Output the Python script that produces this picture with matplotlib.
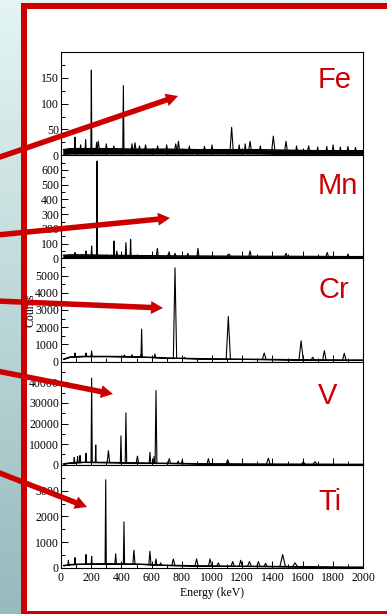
import numpy as np
import matplotlib
matplotlib.use("Agg")
import matplotlib.pyplot as plt
from matplotlib.patches import Rectangle, FancyArrow
from matplotlib.ticker import MultipleLocator

plt.rcParams['font.family'] = ['Liberation Serif', 'DejaVu Serif']

W, H = 387, 614
RED = "#cc0000"

# panel setup (top to bottom)
elements = ["Fe", "Mn", "Cr", "V", "Ti"]
y_max = [200, 700, 6000, 50000, 4000]
y_ticks = [
    [0, 50, 100, 150],
    [0, 100, 200, 300, 400, 500, 600],
    [0, 1000, 2000, 3000, 4000, 5000],
    [0, 10000, 20000, 30000, 40000],
    [0, 1000, 2000, 3000],
]
x_ticks = [0, 200, 400, 600, 800, 1000, 1200, 1400, 1600, 1800, 2000]

# continuum (keV, counts): lower / upper edge of the noisy band
fe_cont_e  = [15, 60, 150, 300, 500, 700, 900, 1100, 1300, 1500, 1700, 1900, 2000]
fe_cont_lo = [2, 3, 3, 3, 3, 3, 3, 3, 3, 2, 2, 2, 2]
fe_cont_hi = [11, 13, 13, 13, 12, 12, 11, 11, 11, 10, 9, 9, 9]
fe_peak_e = [93, 130, 163, 201, 236, 247, 300, 350, 413, 470, 490, 520, 560, 640, 700,
             760, 778, 850, 950, 1000, 1130, 1180, 1220, 1252, 1320, 1406, 1490, 1560,
             1640, 1700, 1760, 1802, 1850, 1900, 1950]
fe_peak_h = [35, 20, 30, 165, 25, 27, 22, 18, 135, 22, 24, 18, 20, 18, 20,
             22, 27, 18, 17, 20, 54, 20, 22, 27, 18, 37, 27, 18,
             18, 16, 17, 20, 16, 17, 15]
fe_peak_w = [3, 3, 3, 3, 4, 6, 4, 4, 4, 4, 6, 4, 5, 4, 4,
             6, 6, 4, 4, 4, 10, 4, 4, 8, 4, 10, 8, 4,
             6, 4, 4, 5, 4, 5, 4]

mn_cont_e  = [15, 60, 150, 300, 500, 700, 900, 1100, 1300, 1500, 1700, 1900, 2000]
mn_cont_lo = [0, 0, 0, 0, 0, 0, 0, 0, 0, 0, 0, 0, 0]
mn_cont_hi = [22, 25, 25, 22, 20, 18, 17, 16, 15, 15, 14, 13, 13]
mn_peak_e = [93, 166, 203, 238, 351, 370, 430, 461, 638, 716, 755, 840, 907, 1113, 1252, 1490, 1763, 1900]
mn_peak_h = [40, 50, 84, 660, 118, 50, 107, 129, 68, 45, 35, 35, 68, 30, 50, 35, 40, 30]
mn_peak_w = [3, 3, 3, 3, 3, 4, 4, 3, 6, 6, 5, 5, 6, 8, 8, 8, 8, 5]

cr_cont_e  = [15, 60, 150, 300, 500, 700, 900, 1100, 1300, 1500, 1700, 1900, 2000]
cr_cont_lo = [150, 280, 310, 310, 290, 220, 180, 160, 140, 120, 110, 100, 100]
cr_cont_hi = [150, 280, 310, 310, 290, 220, 180, 160, 140, 120, 110, 100, 100]
cr_peak_e = [93, 166, 203, 420, 470, 529, 534, 622, 755, 818, 1108, 1346, 1590, 1667, 1744, 1876]
cr_peak_h = [500, 500, 620, 380, 400, 400, 1890, 450, 5450, 250, 2620, 500, 1210, 250, 635, 485]
cr_peak_w = [3, 3, 4, 5, 5, 4, 4, 4, 11, 5, 14, 12, 14, 10, 11, 11]

v_cont_e  = [15, 60, 150, 300, 500, 700, 900, 1100, 1300, 1500, 1700, 1900, 2000]
v_cont_lo = [500, 1000, 1300, 1200, 1000, 800, 600, 500, 450, 400, 350, 300, 300]
v_cont_hi = [500, 1000, 1300, 1200, 1000, 800, 600, 500, 450, 400, 350, 300, 300]
v_peak_e = [88, 110, 126, 166, 203, 230, 314, 397, 430, 506, 589, 616, 629, 717, 776, 803, 976, 1104, 1373, 1605, 1682]
v_peak_h = [3500, 4000, 4500, 5600, 42000, 9600, 6850, 14000, 25200, 4200, 6100, 4000, 36000, 3000, 1800, 2200, 3000, 2500, 3200, 1500, 1500]
v_peak_w = [3, 3, 3, 3, 4, 3, 8, 4, 5, 8, 5, 4, 6, 8, 6, 6, 8, 10, 12, 10, 12]

ti_cont_e  = [15, 60, 150, 300, 500, 700, 900, 1100, 1300, 1500, 1700, 1900, 2000]
ti_cont_lo = [100, 140, 160, 170, 160, 110, 90, 80, 70, 60, 50, 40, 40]
ti_cont_hi = [100, 140, 160, 170, 160, 110, 90, 80, 70, 60, 50, 40, 40]
ti_peak_e = [49, 93, 166, 203, 296, 362, 417, 483, 589, 629, 660, 744, 898, 987, 1042, 1137, 1190, 1248, 1307, 1355, 1468, 1550]
ti_peak_h = [300, 400, 520, 450, 3420, 550, 1790, 690, 650, 350, 200, 350, 350, 350, 200, 250, 300, 250, 250, 180, 520, 200]
ti_peak_w = [3, 3, 3, 3, 4, 5, 4, 7, 7, 6, 6, 10, 10, 10, 10, 10, 10, 12, 10, 10, 18, 16]

spectra = [
    (fe_cont_e, fe_cont_lo, fe_cont_hi, fe_peak_e, fe_peak_h, fe_peak_w),
    (mn_cont_e, mn_cont_lo, mn_cont_hi, mn_peak_e, mn_peak_h, mn_peak_w),
    (cr_cont_e, cr_cont_lo, cr_cont_hi, cr_peak_e, cr_peak_h, cr_peak_w),
    (v_cont_e, v_cont_lo, v_cont_hi, v_peak_e, v_peak_h, v_peak_w),
    (ti_cont_e, ti_cont_lo, ti_cont_hi, ti_peak_e, ti_peak_h, ti_peak_w),
]

# label baselines in pixels
label_base = [88, 194, 298, 404, 510]


def draw_spectrum(ax, cont_e, lo, hi, pk_e, pk_h, pk_w):
    e = np.array(cont_e, dtype=float)
    hi = np.array(hi, dtype=float)
    ax.fill_between(e, lo, hi, color='black', lw=0.6)
    ax.plot(e, hi, color='black', lw=0.8)
    for pe, ph, pw in zip(pk_e, pk_h, pk_w):
        b0 = np.interp(pe - pw, e, hi)
        b1 = np.interp(pe + pw, e, hi)
        ax.plot([pe - pw, pe, pe + pw], [b0, ph, b1], color='black', lw=0.8)


fig = plt.figure(figsize=(W / 100, H / 100), dpi=100)

# slide background + red frame
ax_bg = fig.add_axes([0, 0, 1, 1], zorder=-1)
ax_bg.set_xlim(0, W)
ax_bg.set_ylim(H, 0)
ax_bg.axis('off')
top_c = np.array([228, 245, 242]) / 255
bot_c = np.array([150, 186, 190]) / 255
grad = np.linspace(0, 1, 256)[:, None, None] * (bot_c - top_c) + top_c
ax_bg.imshow(grad, extent=[0, W, H, 0], aspect='auto')
ax_bg.add_patch(Rectangle((21, 3), W - 21, H - 3, color='white', lw=0))
ax_bg.add_patch(Rectangle((21, 3), W - 21, 6, color=RED, lw=0))
ax_bg.add_patch(Rectangle((21, 3), 5.5, H - 3, color=RED, lw=0))
ax_bg.add_patch(Rectangle((21, 611), W - 21, 3, color=RED, lw=0))

left, right = 61, 363
top, bottom = 52, 568
ph = (bottom - top) / len(elements)

for i, name in enumerate(elements):
    # panels stacked from the top
    y_top = top + i * ph
    ax = fig.add_axes([left / W, 1 - (y_top + ph) / H, (right - left) / W, ph / H])
    draw_spectrum(ax, *spectra[i])
    ax.set_xlim(0, 2000)
    ax.set_ylim(0, y_max[i])
    ax.set_xticks(x_ticks)
    ax.xaxis.set_minor_locator(MultipleLocator(100))
    ax.set_yticks(y_ticks[i])
    ax.yaxis.set_minor_locator(MultipleLocator(y_ticks[i][1] / 2))
    ax.tick_params(which='both', direction='in', top=False, right=False,
                   labelsize=8.5, width=0.7, color='black')
    ax.tick_params(axis='y', which='both', pad=1.5)
    ax.tick_params(axis='x', which='both', pad=3)
    ax.tick_params(which='major', length=5)
    ax.tick_params(which='minor', length=3)
    if i < len(elements) - 1:
        ax.tick_params(axis='x', labelbottom=False)
    for sp in ax.spines.values():
        sp.set_linewidth(0.8)
    fig.text(318 / W, 1 - label_base[i] / H, name, color=RED, fontsize=21,
             family=['Liberation Sans', 'DejaVu Sans'], ha='left', va='baseline')

fig.text(30 / W, 1 - 310 / H, "Counts", rotation=90, ha='center', va='center', fontsize=8.5)
fig.text(212 / W, 1 - 593 / H, "Energy (keV)", ha='center', va='center', fontsize=8.5)

# red arrows pointing into each panel
ax_ov = fig.add_axes([0, 0, 1, 1], zorder=5)
ax_ov.set_xlim(0, W)
ax_ov.set_ylim(H, 0)
ax_ov.axis('off')
ax_ov.patch.set_alpha(0)
arrows = [((-3, 158), (178, 96)), ((-3, 235), (170, 218)), ((-3, 301), (163, 308)),
          ((-3, 371), (113, 394)), ((-3, 472), (87, 507))]
for (x0, y0), (x1, y1) in arrows:
    ax_ov.add_patch(FancyArrow(x0, y0, x1 - x0, y1 - y0, width=5.5, head_width=13,
                               head_length=12, length_includes_head=True,
                               color=RED, lw=0))

fig.savefig("out.png", dpi=100)
